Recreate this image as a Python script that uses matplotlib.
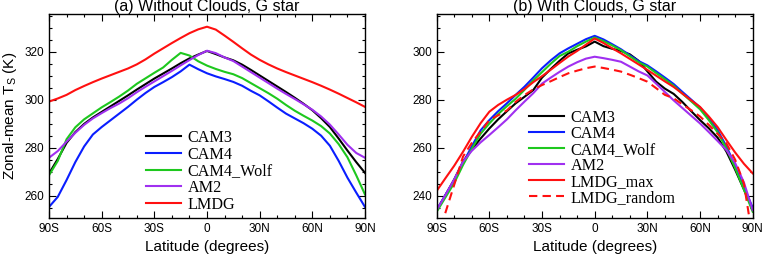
import numpy as np
import matplotlib
matplotlib.use("Agg")
import matplotlib.pyplot as plt
from matplotlib.ticker import MultipleLocator

plt.rcParams['font.family'] = ['Liberation Sans', 'DejaVu Sans']

lat = np.arange(-90, 91, 5)

# (a) without clouds
a_cam3 = [269.2, 275.3, 282.0, 286.5, 289.9, 292.6, 294.9, 297.2, 299.5, 301.8, 304.2, 306.5, 308.8,
          310.9, 313.0, 315.2, 317.2, 318.8, 320.3, 319.0, 317.6, 316.4, 314.6, 312.4, 310.1, 307.8,
          305.5, 303.2, 300.8, 298.3, 295.6, 292.3, 288.6, 283.8, 278.8, 274.0, 269.5]
a_cam4 = [255.3, 259.5, 266.5, 274.0, 280.5, 285.5, 288.6, 291.4, 294.2, 297.0, 300.0, 302.8, 305.3,
          307.3, 309.4, 311.8, 314.6, 312.7, 311.0, 309.7, 308.6, 307.4, 305.8, 303.7, 301.8, 299.3,
          296.7, 294.2, 292.2, 290.2, 287.9, 285.0, 280.8, 274.5, 267.5, 261.3, 255.3]
a_wolf = [268.5, 274.5, 283.5, 288.5, 291.8, 294.3, 296.8, 299.0, 301.3, 303.8, 306.6, 308.9, 311.2,
          313.4, 316.6, 319.5, 318.4, 316.0, 314.2, 312.8, 311.6, 310.6, 309.0, 306.9, 304.8, 302.7,
          300.4, 297.8, 295.4, 293.3, 291.3, 289.0, 285.9, 281.5, 276.0, 268.5, 260.5]
a_am2 = [275.8, 278.6, 282.5, 286.2, 289.5, 292.2, 294.4, 296.5, 298.4, 300.6, 303.1, 305.4, 307.6,
         309.8, 312.0, 314.3, 316.5, 318.6, 320.4, 319.4, 317.6, 316.1, 313.8, 311.5, 309.2, 306.9,
         304.6, 302.4, 300.3, 298.1, 295.8, 293.0, 289.6, 285.5, 281.2, 277.8, 275.8]
a_lmdg = [299.2, 300.5, 302.0, 304.0, 305.7, 307.3, 308.8, 310.2, 311.6, 313.0, 314.7, 316.8, 319.2,
          321.4, 323.6, 325.7, 327.7, 329.3, 330.4, 329.2, 326.7, 324.1, 321.4, 318.8, 316.6, 314.7,
          313.0, 311.5, 310.1, 308.7, 307.3, 305.8, 304.2, 302.5, 300.7, 298.9, 297.0]

# (b) with clouds
b_cam3 = [234.0, 240.3, 246.8, 254.2, 259.3, 263.8, 268.0, 271.8, 275.2, 278.5, 281.2, 284.0, 289.2,
          292.8, 296.2, 299.3, 300.8, 302.2, 304.2, 302.3, 301.2, 300.3, 298.9, 296.2, 291.8, 287.5,
          284.6, 282.4, 279.0, 275.2, 271.5, 268.1, 264.2, 258.4, 250.8, 242.6, 234.2]
b_cam4 = [234.0, 240.3, 246.4, 253.5, 260.6, 267.2, 271.5, 275.2, 278.5, 282.0, 285.4, 289.2, 293.1,
          296.4, 299.3, 301.4, 303.3, 305.2, 306.6, 305.1, 303.1, 301.0, 298.5, 296.1, 294.3, 291.8,
          289.2, 286.5, 283.2, 280.0, 276.8, 272.3, 267.3, 260.6, 252.5, 243.5, 235.0]
b_wolf = [233.3, 239.3, 245.3, 252.8, 259.5, 265.8, 270.1, 274.0, 277.3, 280.4, 284.1, 288.0, 291.5,
          295.0, 298.2, 300.0, 302.3, 304.2, 305.9, 304.4, 302.6, 300.6, 298.1, 295.6, 293.8, 291.1,
          288.5, 285.8, 282.5, 279.3, 276.0, 271.5, 266.4, 259.6, 251.5, 242.5, 233.3]
b_am2 = [234.0, 240.3, 246.8, 254.2, 258.7, 262.2, 265.3, 268.5, 271.8, 275.6, 279.2, 282.7, 286.7,
         289.2, 291.6, 293.8, 295.6, 297.1, 297.9, 297.3, 296.6, 295.8, 293.8, 291.8, 290.1, 286.7,
         283.2, 279.7, 276.5, 273.3, 270.1, 266.5, 262.8, 259.0, 253.6, 245.5, 234.0]
b_lmdg_max = [242.0, 247.3, 252.5, 258.3, 264.5, 270.2, 275.0, 277.8, 280.0, 282.0, 284.4, 287.3, 289.8,
              292.5, 295.3, 298.0, 300.3, 302.9, 305.5, 303.6, 301.4, 299.3, 297.0, 294.7, 292.4, 290.0,
              287.6, 285.3, 282.5, 279.7, 277.0, 273.0, 268.6, 263.2, 258.0, 253.3, 249.3]
b_lmdg_rand = [222.0, 233.0, 244.6, 256.3, 262.0, 266.7, 271.5, 273.5, 275.5, 279.1, 281.9, 284.3, 286.1,
               287.7, 289.4, 291.0, 292.1, 293.1, 293.8, 293.2, 292.5, 291.7, 290.4, 289.0, 287.5, 284.8,
               282.0, 280.6, 278.0, 275.6, 273.0, 269.5, 265.8, 261.8, 255.0, 245.0, 222.0]

xticks = [-90, -60, -30, 0, 30, 60, 90]
xticklabels = ['90S', '60S', '30S', '0', '30N', '60N', '90N']

c_black = 'black'
c_blue = '#0a1eff'
c_green = '#1ec81e'
c_purple = '#a030f0'
c_red = '#ff1010'

fig = plt.figure(figsize=(7.63, 2.59), dpi=100)
ax1 = fig.add_axes([49/763, 41/259, 316/763, 204/259])
ax2 = fig.add_axes([436.7/763, 41/259, 316/763, 204/259])

lw = 1.5
ax1.plot(lat, a_cam3, color=c_black, lw=lw, label='CAM3')
ax1.plot(lat, a_cam4, color=c_blue, lw=lw, label='CAM4')
ax1.plot(lat, a_wolf, color=c_green, lw=lw, label='CAM4_Wolf')
ax1.plot(lat, a_am2, color=c_purple, lw=lw, label='AM2')
ax1.plot(lat, a_lmdg, color=c_red, lw=lw, label='LMDG')

ax2.plot(lat, b_cam3, color=c_black, lw=lw, label='CAM3')
ax2.plot(lat, b_cam4, color=c_blue, lw=lw, label='CAM4')
ax2.plot(lat, b_wolf, color=c_green, lw=lw, label='CAM4_Wolf')
ax2.plot(lat, b_am2, color=c_purple, lw=lw, label='AM2')
ax2.plot(lat, b_lmdg_max, color=c_red, lw=lw, label='LMDG_max')
ax2.plot(lat, b_lmdg_rand, color=c_red, lw=lw, ls=(0, (4, 2.5)), label='LMDG_random')

ax1.set_ylim(250.7, 335.7)
ax2.set_ylim(230.7, 315.7)

for ax, title in [(ax1, '(a) Without Clouds, G star'), (ax2, '(b) With Clouds, G star')]:
    ax.set_xlim(-90, 90)
    ax.set_xticks(xticks)
    ax.set_xticklabels(xticklabels)
    ax.xaxis.set_minor_locator(MultipleLocator(10))
    ax.yaxis.set_major_locator(MultipleLocator(20))
    ax.yaxis.set_minor_locator(MultipleLocator(5))
    ax.tick_params(which='both', direction='in', top=True, right=True, labelsize=8.5, width=0.8)
    ax.tick_params(which='major', length=5)
    ax.tick_params(which='minor', length=2.5)
    for s in ax.spines.values():
        s.set_linewidth(1.0)
    ax.set_title(title, fontsize=11.5, pad=2)
    ax.set_xlabel('Latitude (degrees)', fontsize=11, labelpad=4)

ax1.set_ylabel('Zonal-mean T$_\\mathregular{S}$ (K)', fontsize=11, labelpad=4)

leg_font = {'family': 'Liberation Serif', 'size': 11.6}
ax1.legend(loc='upper left', bbox_to_anchor=(0.27, 0.486), frameon=False, prop=leg_font,
           handlelength=2.2, handletextpad=0.4, labelspacing=0.04, borderpad=0.2)
ax2.legend(loc='upper left', bbox_to_anchor=(0.255, 0.585), frameon=False, prop=leg_font,
           handlelength=2.2, handletextpad=0.4, labelspacing=0.0, borderpad=0.2)

fig.savefig('out.png', dpi=100)
